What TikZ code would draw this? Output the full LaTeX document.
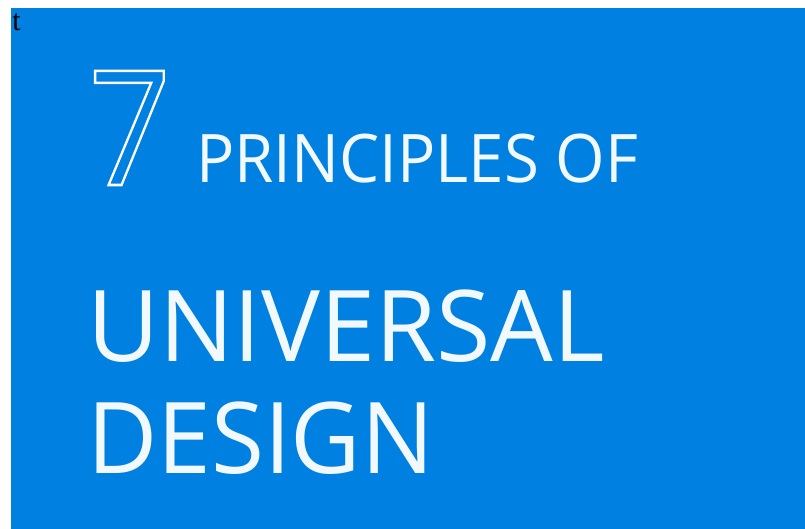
\documentclass[tikz,border=0pt]{standalone}
\usepackage{fontspec}
\newfontfamily\udfont{Open Sans}
\newfontfamily\markfont{Liberation Serif}
\definecolor{udblue}{RGB}{0,128,224}
\definecolor{udwhite}{RGB}{242,249,252}
\colorlet{colorBG}{udblue}
\colorlet{colorTXT}{udwhite}
\tikzset{
   every node/.style={inner sep=0pt,outer sep=0pt},
   title/.style={anchor=base west,text=colorTXT},
   big/.style={title,font=\udfont\fontsize{99}{99}\selectfont},
   mid/.style={title,font=\udfont\fontsize{67}{67}\selectfont},
 }
\newcommand{\outlined}[1]{\special{pdf:literal direct 1 Tr 2.6 w}#1\special{pdf:literal direct 0 Tr}}

\begin{document}
\begin{tikzpicture}[x=1pt,y=-1pt]
      \useasboundingbox (0,0) rectangle (805,529);
      \fill[colorBG] (11,8) rectangle (805,529);
      \node[anchor=base west,font=\markfont\fontsize{30}{30}\selectfont] (mark) at (12.5,31) {t};

      \node[title,font=\udfont\fontsize{164}{164}\selectfont,text=white] (seven) at (88.5,185) {\scalebox{0.88}[0.975]{\outlined{7}}};
      \node[mid] (principles) at (196,183) {\scalebox{0.95}[1]{PRINCIPLES OF}};

      \node[big] (universal) at (87,361) {UNIVERSAL};
      \node[big] (design) at (87,473) {\scalebox{0.975}[1]{DESIGN}};
    \end{tikzpicture}
\end{document}
